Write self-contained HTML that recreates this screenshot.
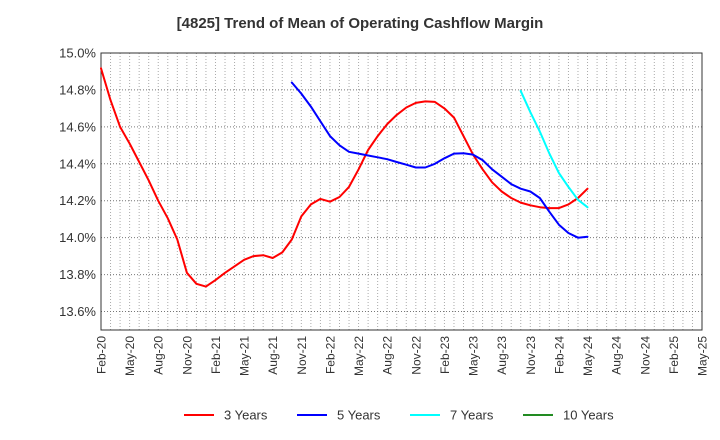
<!DOCTYPE html>
<html><head><meta charset="utf-8"><style>
body{margin:0;background:#fff;}
svg{display:block;font-family:"Liberation Sans",Arial,sans-serif;}
</style></head><body>
<svg id="chart" width="720" height="440">
<text x="360" y="28" text-anchor="middle" font-size="15" font-weight="bold" fill="#333">[4825]  Trend of Mean of Operating Cashflow Margin</text>
<g id="grid"></g>
<g id="axes"></g>
<g id="series"></g>
<g id="legend"></g>
</svg>
<script>
const months=["Jan","Feb","Mar","Apr","May","Jun","Jul","Aug","Sep","Oct","Nov","Dec"];
const yTicks=[13.6,13.8,14.0,14.2,14.4,14.6,14.8,15.0];
const series3=[14.917,14.745,14.60,14.51,14.41,14.31,14.20,14.105,13.99,13.81,13.75,13.735,13.77,13.81,13.845,13.88,13.90,13.905,13.89,13.92,13.99,14.115,14.18,14.21,14.195,14.22,14.275,14.37,14.475,14.55,14.615,14.665,14.705,14.73,14.738,14.735,14.70,14.65,14.55,14.45,14.37,14.30,14.25,14.215,14.19,14.175,14.165,14.16,14.16,14.18,14.215,14.265];
const start3=0;
const series5=[14.84,14.78,14.71,14.63,14.55,14.50,14.465,14.455,14.445,14.435,14.425,14.41,14.395,14.38,14.38,14.40,14.43,14.455,14.457,14.45,14.42,14.37,14.33,14.29,14.265,14.25,14.215,14.14,14.07,14.025,14.0,14.005];
const start5=20;
const series7=[14.795,14.68,14.575,14.455,14.35,14.275,14.205,14.165];
const start7=44;
const series10=[];
const start10=0;

const L=101,R=702,T=53,B=330,yMin=13.5,yMax=15.0,nMonths=63;
const NS="http://www.w3.org/2000/svg";
function xS(i){return L+(R-L)*i/nMonths;}
function yS(v){return B-(v-yMin)/(yMax-yMin)*(B-T);}
function mk(tag,attrs,parent){const e=document.createElementNS(NS,tag);for(const k in attrs)e.setAttribute(k,attrs[k]);parent.appendChild(e);return e;}
const grid=document.getElementById('grid'),axes=document.getElementById('axes'),ser=document.getElementById('series'),leg=document.getElementById('legend');
for(let i=1;i<nMonths;i++){
  const l=mk('line',{x1:xS(i),x2:xS(i),y1:T,y2:B,stroke:'#aaa','stroke-width':1,'stroke-dasharray':'1,2'},grid);
  
  
}
yTicks.forEach(v=>{
  if(v<yMax){const l=mk('line',{x1:L,x2:R,y1:yS(v),y2:yS(v),stroke:'#777','stroke-width':1,'stroke-dasharray':'1,2'},grid);
  
  }
  const t=mk('text',{x:L-5,y:yS(v)+4.5,'text-anchor':'end','font-size':13,fill:'#333'},axes);
  t.textContent=v.toFixed(1)+'%';
  
  
});
const fr=mk('rect',{x:L,y:T,width:R-L,height:B-T,fill:'none',stroke:'#333','stroke-width':1},axes);


for(let i=0;i<=nMonths;i+=3){
  const mi=(1+i)%12, yr=20+Math.floor((1+i)/12);
  const x=xS(i);
  const t=mk('text',{x:0,y:0,'text-anchor':'end','font-size':12,fill:'#333',transform:`translate(${x+4.5},${B+6}) rotate(-90)`},axes);
  t.textContent=months[mi]+'-'+yr;
  
  
}
function draw(data,start,color,name){
  if(!data.length)return;
  const pts=data.map((v,i)=>xS(start+i).toFixed(1)+','+yS(v).toFixed(1)).join(' ');
  const p=mk('polyline',{points:pts,fill:'none',stroke:color,'stroke-width':2,'stroke-linejoin':'round','stroke-linecap':'round'},ser);
  
  
}
draw(series3,start3,'#ff0000','line-3-years');
draw(series5,start5,'#0000ff','line-5-years');
draw(series7,start7,'#00ffff','line-7-years');
draw(series10,start10,'#228b22','line-10-years');
const legItems=[['3 Years','#ff0000',184],['5 Years','#0000ff',297],['7 Years','#00ffff',410],['10 Years','#228b22',523]];
legItems.forEach(([lab,c,x])=>{
  const g=mk('g',{},leg);
  
  
  mk('line',{x1:x,x2:x+30,y1:415,y2:415,stroke:c,'stroke-width':2},g);
  const t=mk('text',{x:x+40,y:419.5,'font-size':13,fill:'#333'},g);
  t.textContent=lab;
});
</script>
</body></html>
